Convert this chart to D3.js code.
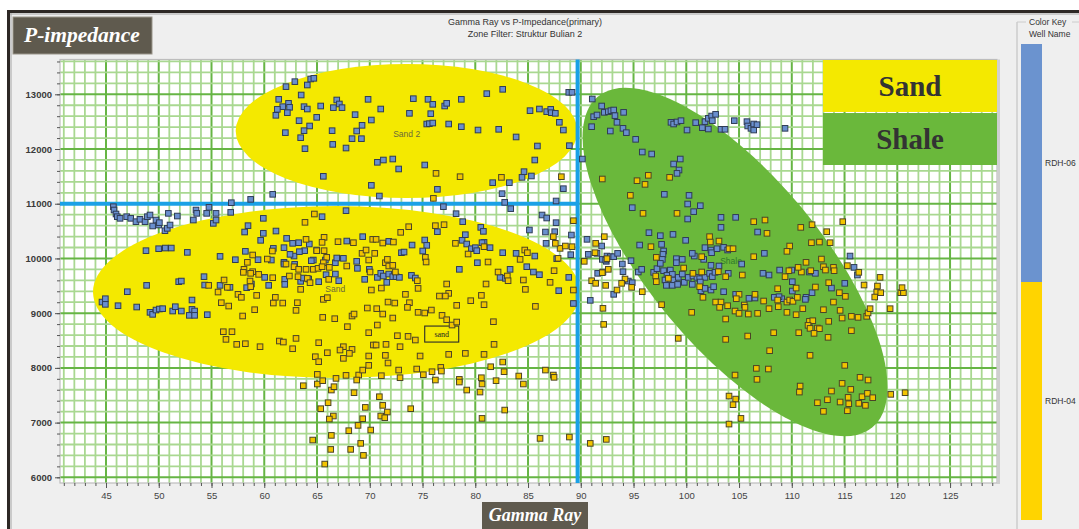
<!DOCTYPE html>
<html>
<head>
<meta charset="utf-8">
<script src="https://cdn.jsdelivr.net/npm/d3@7"></script>
<style>
  html, body { margin: 0; padding: 0; background: #ffffff; }
  svg { display: block; font-family: Arial, "Liberation Sans", sans-serif; }
</style>
</head>
<body>
<svg id="chart" width="1079" height="529"></svg>
<script>
// ---- axis ticks ----
const grTicks = [45, 50, 55, 60, 65, 70, 75, 80, 85, 90, 95, 100, 105, 110, 115, 120, 125];
const zTicks = [6000, 7000, 8000, 9000, 10000, 11000, 12000, 13000];

// ---- legend entries ----
const wellNames = ["RDH-06", "RDH-04"];
const lithologies = ["Sand", "Shale"];

// ---- interpreted zones (centre, end of long axis, short/long ratio) ----
const zoneLabels = ["Sand 2", "Sand", "Shale"];
const zoneCenters = [[73.49, 12329], [66.85, 9386], [104.62, 9934]];
const zoneTips = [[89.69, 12329], [89.93, 9386], [117.64, 6913]];
const zoneAspect = [0.392, 0.353, 0.40];
const zoneLabelPos = [[73.5, 12262], [66.73, 9435], [104.24, 9947]];
const noteText = "sand";
const notePos = [76.82, 8618];

// ---- cutoffs ----
const grCutoff = 89.7;
const zCutoff = 11000;

// ---- samples: [Gamma Ray, P-impedance] ----
const rdh06 = [
  [62.06,13140],[62.9,13231],[64.08,13170],[64.4,13280],[64.7,13292],[63.5,12987],[61.37,12908],[62.3,12835],[61.75,12774],[62.4,12762],[61.24,12725],[63.77,12774],[64.08,12731],[62.19,12664],[61.1,12616],[64.97,12579],[63.3,12518],[64.3,12421],[63.77,12335],[62.0,12299],[63.45,12207],[63.86,12006],
  [45.7,10946],[45.76,10885],[45.95,10812],[46.07,10763],[46.33,10733],[46.96,10763],[47.34,10733],[47.84,10672],[48.22,10715],[48.7,10672],[48.92,10763],[49.17,10794],[49.42,10593],[49.74,10702],[49.99,10611],[50.06,10654],[50.59,10507],[50.81,10550],[51.07,10611],[50.91,10824],[51.76,10775],[53.28,10702],[53.53,10885],[53.6,10824],[54.54,10824],[54.76,10934],[55.17,10641],[55.43,10702],[55.43,10824],[56.82,10842],[56.88,11019],[58.71,11080],[60.8,11172],
  [48.79,10142],[49.99,10178],[50.62,10190],[51.19,10190],[52.71,10111],[55.81,10038],[57.26,9977],[58.21,10130],[59.91,10733],[58.46,10599],[58.14,10483],[61.11,10501],[59.66,10331],[59.91,10459],[62.12,10367],[62.69,10276],[63.26,10288],[63.83,10142],[64.27,10264],[64.97,10154],[60.86,10184],[61.87,10197],[62.82,10044],[63.33,10124],[59.41,9977],[60.67,9971],[61.87,9929],[64.65,9971],[48.85,9508],[47.02,9392],[44.62,9203],[44.94,9264],[44.94,9161],[46.14,9136],[47.91,9112],[49.17,9015],[49.42,8978],[49.74,9057],[50.06,9076],[50.37,9082],[51.32,9039],[51.57,9118],[52.14,9039],[52.9,8960],[53.15,9069],[53.4,9039],[53.4,8960],[54.6,8972],[51.89,9575],[52.14,9587],[54.29,9667],[54.35,9514],[55.81,9508],[56.75,9472],[58.33,9466],[58.78,9533],[60.04,9654],[60.42,9508],[61.94,9618],[61.94,9526],[63.45,9581],[63.7,9642],[64.21,9624],[65.16,9575],[62.88,9892],[64.46,9959],[61.87,9898],[62.44,10075],[53.15,9240],
  [65.35,12786],[66.55,12756],[66.87,12896],[67.12,12823],[67.37,12756],[68.61,12628],[69.84,12908],[70.15,12530],[71.04,12731],[73.76,12652],[74.13,12920],[75.52,12908],[75.97,12817],[75.78,12646],[77.1,12786],[77.29,12835],[78.68,12908],[81.09,13012],[82.6,13091],[66.43,12335],[68.76,12329],[69.27,12433],[68.32,12189],[69.21,12189],[66.49,12085],[67.75,12018],[70.72,11757],[71.29,11799],[72.18,11817],[72.74,11635],[75.21,11708],[75.4,12457],[75.65,12463],[75.97,12475],[77.48,12457],[78.68,12408],[80.26,12347],[82.22,12360],[83.87,12220],[85.19,12701],[86.08,12731],[86.77,12683],[87.15,12725],[87.21,12664],[87.59,12652],[87.97,12488],[88.35,12347],[85.89,12055],[88.92,12061],[85.64,11799],[84.62,11586],[84.43,11482],[85.32,11507],[81.65,11385],[83.23,11385],[65.6,11501],[70.15,11336],[70.91,11141],[82.54,11184],[87.66,11050],[88.86,13036],[89.17,13036],[88.35,11275],[76.41,11263],
  [65.48,10763],[67.75,10873],[78.18,10818],[78.81,10672],[80.52,10568],[80.77,10495],[80.83,10294],[79.06,10434],[78.75,10331],[79.19,10264],[79.63,10178],[80.01,10197],[80.14,10142],[80.64,10288],[81.4,10197],[76.41,10489],[74.01,10245],[75.21,10337],[75.4,10239],[75.02,10136],[73.0,10105],[73.25,10117],[71.8,10312],[69.33,10398],[67.82,10318],[67.5,10002],[68.76,9947],[66.74,9922],[66.87,10008],[65.79,9971],[66.74,9715],[67.06,9593],[65.86,9703],[68.83,9819],[69.52,9618],[69.96,9801],[70.72,9654],[71.04,9728],[71.29,9679],[71.8,9715],[72.18,9667],[72.49,9667],[72.81,9654],[71.61,9563],[73.95,9691],[74.32,9642],[78.49,9801],[80.2,9922],[82.6,10105],[83.3,9801],[82.35,9654],[82.86,9636],[83.87,10093],[84.88,9849],[85.64,10044],[85.51,9752],[86.08,9703],[86.71,10276],[87.66,10654],[86.65,10483],[87.53,10489],[89.11,10428],[86.33,10794],[86.77,10739],[87.72,9996],[87.91,9411],[89.05,10069],[88.86,9654],[89.3,9177],[85.13,10520],[83.36,10910],[82.79,11025],[76.98,10946],
  [91.09,12914],[91.98,12786],[92.23,12670],[91.22,12591],[91.54,12622],[92.61,12683],[92.86,12701],[93.12,12713],[93.24,12610],[93.43,12488],[94.06,12670],[91.03,12408],[92.8,12329],[94.0,12378],[94.32,12299],[95.2,12177],[95.83,11945],[96.72,11909],[90.15,11817],[98.8,11726],[99.43,11817],[99.31,11616],[99.12,11555],[98.55,12488],[98.8,12457],[99.12,12494],[99.5,12518],[100.07,12347],[100.89,12482],[101.52,12390],[101.77,12500],[102.09,12561],[102.4,12603],[102.47,12518],[102.78,12634],[102.09,12366],[103.29,12360],[103.67,12360],[104.55,12518],[105.75,12500],[105.82,12421],[106.13,12378],[106.39,12347],[106.39,12457],[106.7,12445],[109.36,12378],
  [97.92,11172],[100.26,11153],[100.13,10995],[101.33,10964],[100.7,10855],[100.13,10721],[103.29,10751],[104.68,10751],[103.29,10568],[106.76,10483],[94.88,10928],[96.46,10471],[97.54,10416],[98.74,10440],[99.94,10331],[95.58,10245],[97.66,10258],[97.85,10136],[97.79,10075],[97.73,9983],[99.06,9996],[99.62,9983],[99.06,9922],[100.76,10044],[100.57,10093],[101.77,10197],[102.34,10154],[102.4,10105],[102.91,10178],[103.54,10203],[103.92,10154],[101.65,9983],[102.34,9874],[103.1,9862],[103.98,9728],[105.25,9898],[107.4,10093],[108.85,9788],[107.84,9697],[107.27,9728],[110.05,9575],[109.99,9788],
  [90.59,10349],[91.98,10227],[90.71,10075],[91.54,10093],[92.04,9983],[92.48,10044],[92.8,10032],[93.12,10032],[93.49,10093],[92.42,9947],[93.94,9898],[94.76,9959],[94.0,9758],[91.6,9728],[92.1,9752],[92.36,9971],[94.51,9587],[94.88,9557],[93.12,9344],[90.9,9234],[95.45,9752],[95.77,9801],[96.91,9746],[97.22,9813],[97.54,9910],[97.85,9776],[98.49,9788],[98.17,9691],[98.68,9709],[97.98,9606],[98.8,9606],[99.24,9654],[99.62,9715],[99.81,9563],[100.19,9654],[100.63,9679],[101.01,9654],[101.27,9630],[101.77,9654],[102.21,9728],[102.47,9667],[102.72,9746],[98.11,9508],[98.68,9508],[99.18,9526],[100.57,9526],[101.33,9569],[101.39,9411],[101.77,9453],[102.34,9423],[102.59,9484],[103.54,9392],[104.68,9344],[105.94,9271],[106.51,9277],[108.34,9289],[109.04,9264],[108.79,9301],[110.05,9404],
  [115.52,10044],[115.9,9837],[116.22,9697],[115.02,9545],[113.76,9459],[111.92,9374],[111.35,9289],[111.29,9252],[112.24,9728],[111.67,9752]
];

const rdh04 = [
  [64.75,10812],[63.86,10660],[63.96,10349],[64.97,10142],[60.77,10136],[58.9,10063],[58.4,9929],[60.29,9989],[62.06,9898],[62.82,9849],[63.26,9801],[63.96,9801],[64.65,9801],[65.1,9819],[58.08,9801],[58.9,9758],[59.47,9709],[58.02,9746],[58.71,9728],[58.65,9587],[58.71,9484],[60.8,9648],[62.38,9679],[63.2,9667],[64.08,9636],[64.34,9557],[63.45,9435],[56.19,9606],[56.5,9472],[54.73,9508],[55.62,9386],[57.51,9344],[57.83,9289],[59.28,9325],[61.05,9289],[60.86,9185],[61.75,9185],[63.14,9191],[55.93,9191],[56.63,9130],[57.95,8948],[59.09,9063],[63.01,9051],[56.12,8661],[56.94,8661],[56.37,8521],[57.39,8430],[58.21,8442],[59.6,8387],[61.43,8491],[61.81,8472],[62.69,8350],[63.01,8539],[64.84,8204],[65.16,8113],[65.03,7881],[65.03,7705],[63.7,7674],[64.59,6681],[65.16,8460],
  [76.28,11555],[78.56,11494],[82.48,11482],[88.16,11494],[76.03,11098],
  [73.69,10580],[72.93,10477],[76.22,10599],[77.04,10617],[78.12,10276],[79.32,10081],[80.83,10215],[65.67,10386],[65.48,10294],[66.99,10306],[68.45,10288],[70.28,10349],[70.6,10349],[71.23,10282],[72.24,10300],[65.67,10142],[69.27,10093],[69.65,10154],[70.47,10093],[75.27,10020],[75.34,9935],[81.21,9935],[84.25,9983],[84.69,10154],[84.94,10105],[87.85,10002],[88.04,10184],[88.54,10227],[87.59,10276],[87.4,10398],[89.3,10690],[89.17,10215],[65.92,10020],[65.6,9922],[65.48,9849],[66.17,9837],[67.82,9862],[69.9,9971],[71.48,9922],[71.67,9983],[71.8,9862],[72.18,9874],[70.03,9752],[72.43,9752],[66.11,9618],[70.15,9423],[71.1,9459],[74.51,9593],[74.58,9453],[77.29,9533],[77.48,9362],[77.17,9313],[76.6,9313],[73.38,9344],[73.76,9191],[73.57,9106],[71.73,9203],[72.37,9185],[82.16,9752],[83.04,9679],[83.11,9593],[84.56,9606],[84.75,9435],[87.09,9563],[87.47,9776],[89.3,9423],[81.02,9533],[80.58,9325],[79.57,9228],[78.24,9143],[80.83,9155],[85.7,9124],
  [65.6,9252],[65.98,9283],[69.77,9094],[70.66,9082],[71.23,8984],[72.18,8911],[68.32,8948],[68.51,8984],[66.68,8899],[65.54,8923],[67.88,8753],[70.72,8783],[74.58,9015],[75.21,9003],[75.84,9057],[76.85,8960],[77.29,8880],[77.8,8783],[78.24,8838],[81.72,8844],[69.9,8643],[65.98,8277],[67.5,8387],[67.18,8326],[68.32,8338],[68.07,8265],[67.5,8174],[70.34,8418],[70.6,8418],[71.54,8430],[72.87,8387],[72.62,8588],[73.63,8576],[74.32,8509],[69.9,8217],[71.48,8229],[71.73,8089],[74.77,8217],[77.48,8247],[79.06,8265],[80.83,8247],[81.78,8430],
  [66.8,7808],[67.75,7863],[68.95,7869],[69.9,8046],[69.33,7960],[71.1,7857],[72.74,7960],[72.87,7820],[74.45,7979],[75.08,7875],[75.9,7930],[76.22,7778],[76.73,8009],[76.79,7942],[78.49,7790],[78.49,7741],[79.19,7595],[80.45,7558],[80.64,7705],[80.58,7820],[81.46,8021],[81.97,7766],[82.6,8107],[82.73,7930],[84.12,7851],[84.56,7705],[86.65,7960],[87.4,7869],[87.47,7827],[65.54,7766],[66.36,7595],[66.61,7656],[68.51,7546],[68.76,7778],[66.05,7363],[65.35,7254],[70.91,7473],[71.23,7315],[71.67,7193],[71.04,7120],[71.42,7089],[69.58,7278],[69.33,7071],[66.55,7120],[66.17,7065],[73.88,7254],[82.79,7229],[80.64,7077],[68.89,6949],[68.01,6852],[70.09,6864],[66.36,6766],[69.14,6620],[68.19,6510],[66.3,6510],[69.4,6401],[65.73,6242],[86.14,6711],[88.92,6736],
  [92.04,11452],[95.33,11421],[96.09,11354],[96.4,11519],[98.42,11482],[94.7,11153],[95.9,10824],[99.12,10824],[92.23,10398],[91.41,10276],[91.35,10105],[90.33,9947],[92.48,9996],[92.61,9801],[92.04,9740],[91.03,9593],[91.41,9545],[92.36,9508],[93.43,9423],[94.19,9624],[93.87,9545],[94.82,9472],[95.83,9392],[96.65,10215],[97.16,10020],[97.1,9679],[97.16,9575],[98.3,9636],[99.75,9825],[100.63,9728],[101.46,9752],[101.46,10032],[102.21,10398],[102.28,10300],[103.1,10318],[104.05,10178],[104.43,10178],[103.04,9758],[103.73,9667],[101.27,9484],[101.58,9289],[102.78,9203],[103.29,9203],[103.16,9106],[103.92,9136],[105.0,9344],[104.74,9264],[104.62,9039],[105.0,8996],[105.5,9149],[105.56,9106],[105.88,8984],[106.51,9344],[106.76,8996],[107.33,9222],[107.84,9082],[108.66,9447],[108.66,9240],[108.72,9118],[109.54,9015],[109.54,9203],[109.8,9240],[110.11,9216],[105.31,9697],[106.39,10032],[106.39,10672],[107.46,10702],[107.65,10459],[109.8,10227],[109.54,10130],[109.36,9667],[109.73,9776],[97.66,9155],[100.51,9015],[103.73,8893],[99.24,8539],[103.73,8521],[105.82,8582],[108.28,8643],[107.9,8314],[104.62,7869],[106.64,7991],[107.78,7979],[106.7,7790],[104.05,7485],[104.68,7430],[104.43,7327],[105.18,7077],[104.05,6973],[92.1,9088],[92.17,8795],[92.42,6693],[90.9,6620],
  [110.85,10568],[111.92,10617],[113.31,10489],[114.83,10672],[111.86,10288],[112.62,10300],[113.63,10288],[112.81,9989],[113.0,9849],[113.95,9837],[114.01,9776],[113.19,9788],[111.8,9776],[110.91,9752],[111.35,9929],[110.6,9837],[116.35,9746],[115.27,9868],[118.37,9654],[116.85,9514],[118.12,9496],[118.05,9386],[118.43,9374],[117.86,9295],[115.08,9307],[114.51,9374],[113.5,9557],[112.24,9478],[110.41,9459],[110.53,9289],[111.04,9082],[110.41,8972],[113.0,9063],[114.58,9051],[113.95,9203],[114.77,8911],[115.65,8942],[116.28,8923],[117.1,8942],[117.23,9003],[117.42,9082],[119.32,9082],[120.33,9374],[120.58,9374],[120.45,9466],[111.67,8850],[111.99,8862],[111.54,8777],[111.73,8722],[112.43,8728],[112.62,8716],[112.11,8631],[110.66,8643],[113.5,8850],[113.44,8558],[115.65,8680],[111.73,8229],[115.02,8046],[110.79,7668],[110.72,7558],[113.76,7577],[114.77,7717],[115.59,7607],[116.47,7827],[117.23,7778],[116.66,7473],[117.17,7534],[117.67,7455],[116.35,7351],[116.98,7315],[115.34,7461],[115.4,7345],[114.58,7376],[113.38,7418],[112.43,7363],[113.0,7205],[115.27,7217],[119.38,7516],[120.74,7546]
];

// ---- styling ----
const W = 1079, H = 529;
const plot = { left: 60, right: 997, top: 59.5, bottom: 483 };
const wellFill = { "RDH-06": "#6a8fcf", "RDH-04": "#f2c400" };
const wellStroke = { "RDH-06": "#2f3c56", "RDH-04": "#4b4426" };
const keyFill = { "RDH-06": "#6b93cf", "RDH-04": "#ffd400" };
const zoneFill = { "Sand 2": "#f4e900", "Sand": "#f4e900", "Shale": "#6ab83b" };
const lithoFill = { "Sand": "#f4e900", "Shale": "#6ab83b" };

const svg = d3.select("#chart");

// page background and outer frame
svg.append("rect").attr("width", W).attr("height", H).attr("fill", "#ffffff");
svg.append("rect").attr("x", 7).attr("y", 10).attr("width", W - 7).attr("height", H - 10).attr("fill", "#efefef");
svg.append("rect").attr("x", 7).attr("y", 10).attr("width", W - 7).attr("height", 3).attr("fill", "#2d2825");
svg.append("rect").attr("x", 7).attr("y", 10).attr("width", 3).attr("height", H - 10).attr("fill", "#2d2825");
svg.append("line").attr("x1", 10).attr("x2", W).attr("y1", 14).attr("y2", 14).attr("stroke", "#a5a5a5").attr("stroke-width", 1);
svg.append("line").attr("x1", 11).attr("x2", 11).attr("y1", 13).attr("y2", H).attr("stroke", "#a5a5a5").attr("stroke-width", 1);

// scales
const x = d3.scaleLinear().domain([40.64, 129.45]).range([plot.left, plot.right]);
const y = d3.scaleLinear().domain([5896, 13636]).range([plot.bottom, plot.top]);

// plot background
svg.append("rect")
  .attr("x", plot.left).attr("y", plot.top)
  .attr("width", plot.right - plot.left).attr("height", plot.bottom - plot.top)
  .attr("fill", "#ffffff");

// grid
const gridG = svg.append("g");
const gxVals = d3.range(41, 130, 1);
const gyVals = d3.range(6000, 13637, 200);
gridG.selectAll("line.gx").data(gxVals).join("line")
  .attr("x1", d => x(d)).attr("x2", d => x(d))
  .attr("y1", plot.top).attr("y2", plot.bottom)
  .attr("stroke", d => d % 5 === 0 ? "#66b544" : "#a9d891")
  .attr("stroke-width", d => d % 5 === 0 ? 2 : 1.8);
gridG.selectAll("line.gy").data(gyVals).join("line")
  .attr("x1", plot.left).attr("x2", plot.right)
  .attr("y1", d => y(d)).attr("y2", d => y(d))
  .attr("stroke", d => d % 1000 === 0 ? "#66b544" : "#a9d891")
  .attr("stroke-width", d => d % 1000 === 0 ? 2 : 1.8);

// plot border
svg.append("rect")
  .attr("x", plot.left).attr("y", plot.top)
  .attr("width", plot.right - plot.left).attr("height", plot.bottom - plot.top)
  .attr("fill", "none").attr("stroke", "#bdbdbd").attr("stroke-width", 1.2);
svg.append("rect")
  .attr("x", plot.right).attr("y", plot.top)
  .attr("width", 3).attr("height", plot.bottom - plot.top + 1)
  .attr("fill", "#cfcfcf");

// zones
const clip = svg.append("clipPath").attr("id", "plotClip").append("rect")
  .attr("x", plot.left).attr("y", plot.top)
  .attr("width", plot.right - plot.left).attr("height", plot.bottom - plot.top);
const zoneG = svg.append("g").attr("clip-path", "url(#plotClip)");
zoneLabels.forEach((name, i) => {
  const cx = x(zoneCenters[i][0]), cy = y(zoneCenters[i][1]);
  const tx = x(zoneTips[i][0]), ty = y(zoneTips[i][1]);
  const a = Math.hypot(tx - cx, ty - cy);
  const ang = Math.atan2(ty - cy, tx - cx) * 180 / Math.PI;
  zoneG.append("ellipse")
    .attr("cx", 0).attr("cy", 0)
    .attr("rx", a).attr("ry", a * zoneAspect[i])
    .attr("transform", `translate(${cx},${cy}) rotate(${ang})`)
    .attr("fill", zoneFill[name]);
});

// cutoff lines
svg.append("line")
  .attr("x1", x(grCutoff)).attr("x2", x(grCutoff))
  .attr("y1", plot.top).attr("y2", plot.bottom)
  .attr("stroke", "#1aa1e6").attr("stroke-width", 4);
svg.append("line")
  .attr("x1", plot.left).attr("x2", x(grCutoff))
  .attr("y1", y(zCutoff)).attr("y2", y(zCutoff))
  .attr("stroke", "#1aa1e6").attr("stroke-width", 4);

// zone labels
zoneLabels.forEach((name, i) => {
  svg.append("text")
    .attr("x", x(zoneLabelPos[i][0])).attr("y", y(zoneLabelPos[i][1]))
    .attr("text-anchor", "middle").attr("dominant-baseline", "middle")
    .attr("font-size", 8.5)
    .attr("fill", name === "Shale" ? "#2f7a2a" : "#6b6a3a")
    .text(name);
});
const nx = x(notePos[0]), ny = y(notePos[1]);
svg.append("rect").attr("x", nx - 17).attr("y", ny - 8).attr("width", 34).attr("height", 16)
  .attr("fill", "none").attr("stroke", "#2a2a2a").attr("stroke-width", 1.1);
svg.append("text").attr("x", nx).attr("y", ny + 3)
  .attr("text-anchor", "middle").attr("font-family", "'Liberation Serif', serif")
  .attr("font-size", 8).attr("fill", "#222").text(noteText);

// samples
const ms = 5.6;
function drawWell(data, name) {
  svg.append("g").selectAll("rect").data(data).join("rect")
    .attr("x", d => x(d[0]) - ms / 2).attr("y", d => y(d[1]) - ms / 2)
    .attr("width", ms).attr("height", ms)
    .attr("fill", wellFill[name])
    .attr("stroke", wellStroke[name]).attr("stroke-width", 1);
}
drawWell(rdh06, "RDH-06");
drawWell(rdh04, "RDH-04");

// axes
const axisStyle = g => {
  g.select(".domain").remove();
  g.selectAll("line").attr("stroke", "#555");
  g.selectAll("text").attr("fill", "#333").attr("font-family", "Arial, 'Liberation Sans', sans-serif");
};
svg.append("g").attr("transform", `translate(${plot.left},0)`)
  .call(d3.axisLeft(y).tickValues(gyVals).tickSize(3).tickFormat(""))
  .call(axisStyle);
svg.append("g").attr("transform", `translate(${plot.left},0)`)
  .call(d3.axisLeft(y).tickValues(zTicks).tickSize(5).tickPadding(3).tickFormat(d3.format("d")))
  .call(axisStyle)
  .call(g => g.selectAll("text").attr("font-size", 9.5).attr("font-weight", "bold").attr("fill", "#3a3a3a"));
svg.append("g").attr("transform", `translate(0,${plot.bottom})`)
  .call(d3.axisBottom(x).tickValues(gxVals).tickSize(3).tickFormat(""))
  .call(axisStyle);
svg.append("g").attr("transform", `translate(0,${plot.bottom})`)
  .call(d3.axisBottom(x).tickValues(grTicks).tickSize(5).tickPadding(4).tickFormat(d3.format("d")))
  .call(axisStyle)
  .call(g => g.selectAll("text").attr("font-size", 9.5).attr("fill", "#444"));

// chart titles
svg.append("text").attr("x", 525).attr("y", 25).attr("text-anchor", "middle")
  .attr("font-size", 9).attr("fill", "#333").text("Gamma Ray vs P-Impedance(primary)");
svg.append("text").attr("x", 525).attr("y", 37).attr("text-anchor", "middle")
  .attr("font-size", 9).attr("fill", "#333").text("Zone Filter: Struktur Bulian 2");

// axis title plates
svg.append("rect").attr("x", 13).attr("y", 17).attr("width", 139).attr("height", 37)
  .attr("fill", "#5f5a4e").attr("stroke", "#9a958a").attr("stroke-width", 1);
svg.append("text").attr("x", 82).attr("y", 42).attr("text-anchor", "middle")
  .attr("font-family", "'Liberation Serif', 'DejaVu Serif', serif")
  .attr("font-style", "italic").attr("font-weight", "bold")
  .attr("font-size", 21.5).attr("fill", "#ffffff").text("P-impedance");
svg.append("rect").attr("x", 482).attr("y", 502).attr("width", 106).attr("height", 30)
  .attr("fill", "#5f5a4e");
svg.append("text").attr("x", 535).attr("y", 521).attr("text-anchor", "middle")
  .attr("font-family", "'Liberation Serif', 'DejaVu Serif', serif")
  .attr("font-style", "italic").attr("font-weight", "bold")
  .attr("font-size", 18).attr("fill", "#ffffff").text("Gamma Ray");

// lithology legend
const lithoBand = d3.scaleBand().domain(lithologies).range([60, 165]).paddingInner(0.02);
lithologies.forEach(name => {
  svg.append("rect").attr("x", 823).attr("y", lithoBand(name))
    .attr("width", 174).attr("height", lithoBand.bandwidth())
    .attr("fill", lithoFill[name]);
  svg.append("text").attr("x", 910).attr("y", lithoBand(name) + lithoBand.bandwidth() / 2 + 10)
    .attr("text-anchor", "middle")
    .attr("font-family", "'Liberation Serif', 'DejaVu Serif', serif")
    .attr("font-weight", "bold").attr("font-size", 29).attr("fill", "#333")
    .text(name);
});

// colour key panel
svg.append("line").attr("x1", 1017).attr("x2", 1017).attr("y1", 22).attr("y2", H)
  .attr("stroke", "#cccccc").attr("stroke-width", 1.5);
svg.append("line").attr("x1", 1017).attr("x2", 1026).attr("y1", 22).attr("y2", 22)
  .attr("stroke", "#cccccc").attr("stroke-width", 1);
svg.append("line").attr("x1", 1072).attr("x2", W).attr("y1", 22).attr("y2", 22)
  .attr("stroke", "#cccccc").attr("stroke-width", 1);
svg.append("text").attr("x", 1029).attr("y", 25).attr("font-size", 8.5).attr("fill", "#333").text("Color Key");
svg.append("text").attr("x", 1029).attr("y", 37).attr("font-size", 8.5).attr("fill", "#333").text("Well Name");
const keyBand = d3.scaleBand().domain(wellNames).range([44, 520]);
wellNames.forEach(name => {
  svg.append("rect").attr("x", 1021).attr("y", keyBand(name))
    .attr("width", 21).attr("height", keyBand.bandwidth())
    .attr("fill", keyFill[name]);
  svg.append("text").attr("x", 1045).attr("y", keyBand(name) + keyBand.bandwidth() / 2 + 3)
    .attr("font-size", 8.5).attr("fill", "#333").text(name);
});
</script>
</body>
</html>
